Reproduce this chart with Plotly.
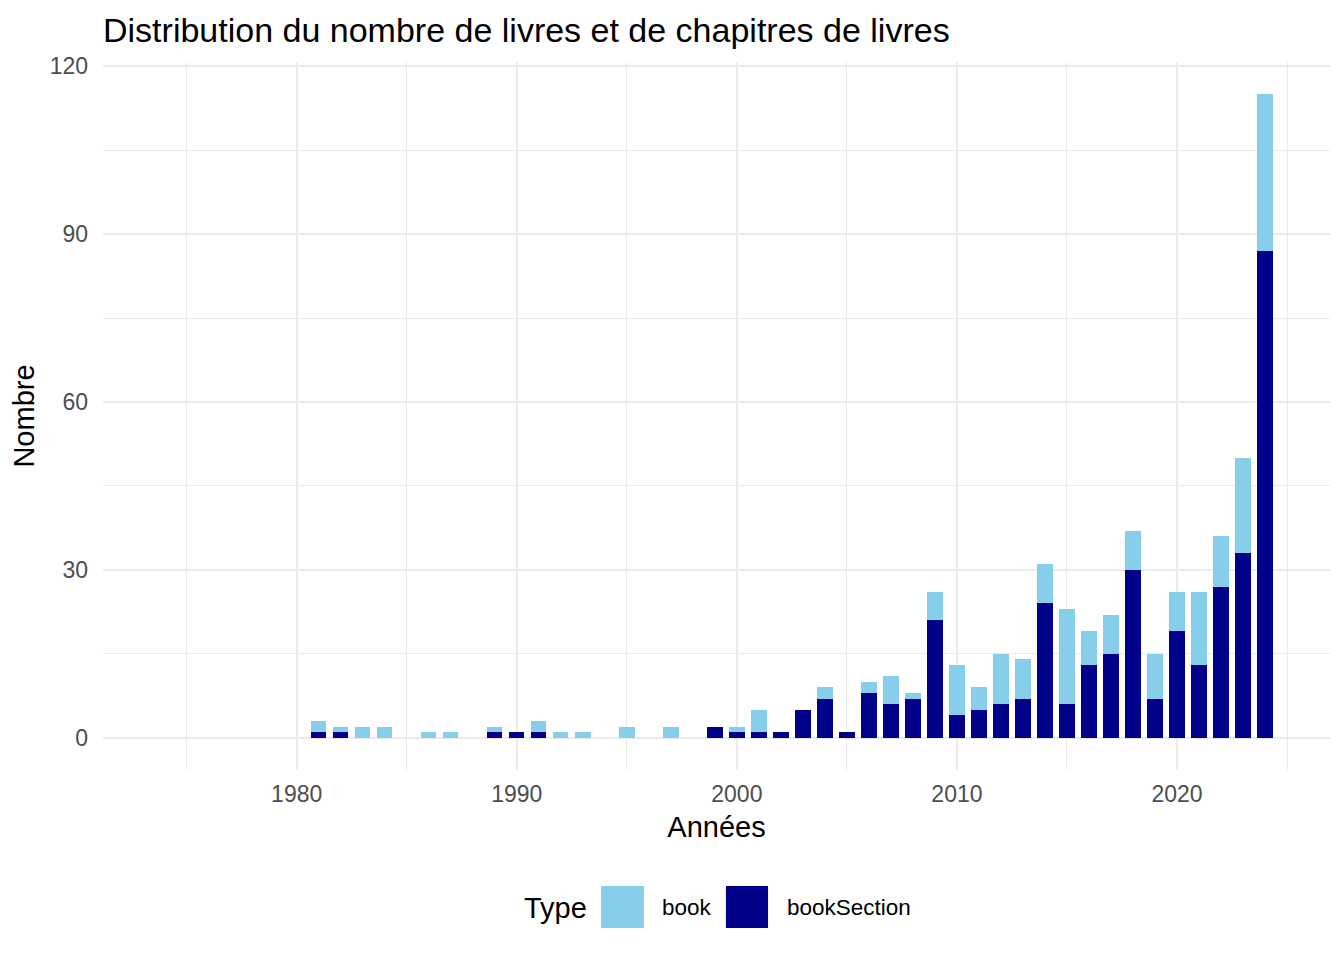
"""
Distribution of books and book chapters per year (stacked bars)
"""

import plotly.graph_objects as go

# ------------------------------------------------------------------
# Data
# ------------------------------------------------------------------
years = [1981, 1982, 1983, 1984, 1986, 1987, 1989, 1990, 1991, 1992,
         1993, 1995, 1997, 1999, 2000, 2001, 2002, 2003, 2004, 2005,
         2006, 2007, 2008, 2009, 2010, 2011, 2012, 2013, 2014, 2015,
         2016, 2017, 2018, 2019, 2020, 2021, 2022, 2023, 2024]

book_section = [1, 1, 0, 0, 0, 0, 1, 1, 1, 0,
                0, 0, 0, 2, 1, 1, 1, 5, 7, 1,
                8, 6, 7, 21, 4, 5, 6, 7, 24, 6,
                13, 15, 30, 7, 19, 13, 27, 33, 87]

book = [2, 1, 2, 2, 1, 1, 1, 0, 2, 1,
        1, 2, 2, 0, 1, 4, 0, 0, 2, 0,
        2, 5, 1, 5, 9, 4, 9, 7, 7, 17,
        6, 7, 7, 8, 7, 13, 9, 17, 28]

x_ticks = [1980, 1990, 2000, 2010, 2020]
y_ticks = [0, 30, 60, 90, 120]

COLOR_BOOK = '#87CEEB'
COLOR_SECTION = '#00008B'
FONT = 'Liberation Sans, Arial, sans-serif'
GRID = '#EBEBEB'

# ------------------------------------------------------------------
# Figure
# ------------------------------------------------------------------
fig = go.Figure()

# bookSection at the bottom, book stacked on top
fig.add_trace(go.Bar(x=years, y=book_section, name='bookSection', width=0.7,
                     marker=dict(color=COLOR_SECTION, line=dict(width=0)),
                     showlegend=False))
fig.add_trace(go.Bar(x=years, y=book, name='book', width=0.7,
                     marker=dict(color=COLOR_BOOK, line=dict(width=0)),
                     showlegend=False))

# Legend drawn by hand (big square keys, like ggplot)
legend_y0, legend_y1 = -0.2232, -0.1638
text_y = -0.1949
fig.add_shape(type='rect', xref='paper', yref='paper',
              x0=0.4059, x1=0.4409, y0=legend_y0, y1=legend_y1,
              fillcolor=COLOR_BOOK, line=dict(width=0))
fig.add_shape(type='rect', xref='paper', yref='paper',
              x0=0.5077, x1=0.5420, y0=legend_y0, y1=legend_y1,
              fillcolor=COLOR_SECTION, line=dict(width=0))
fig.add_annotation(text='Type', xref='paper', yref='paper', x=0.3415, y=text_y,
                   xanchor='left', yanchor='middle', showarrow=False,
                   font=dict(family=FONT, size=29, color='black'))
fig.add_annotation(text='book', xref='paper', yref='paper', x=0.4540, y=text_y,
                   xanchor='left', yanchor='middle', showarrow=False,
                   font=dict(family=FONT, size=22.5, color='black'))
fig.add_annotation(text='bookSection', xref='paper', yref='paper', x=0.5558, y=text_y,
                   xanchor='left', yanchor='middle', showarrow=False,
                   font=dict(family=FONT, size=22.5, color='black'))

fig.update_layout(
    width=1344,
    height=960,
    barmode='stack',
    bargap=0,
    template='plotly_white',
    plot_bgcolor='white',
    paper_bgcolor='white',
    margin=dict(l=95, r=22, t=54, b=198),
    font=dict(family=FONT, color='black'),
    title=dict(
        text='Distribution du nombre de livres et de chapitres de livres',
        x=95 / 1344, xanchor='left', xref='container',
        y=1 - 22 / 960, yanchor='middle', yref='container',
        font=dict(family=FONT, size=34, color='black')
    ),
    showlegend=False
)

fig.update_xaxes(
    range=[1971.2, 2026.95],
    tickmode='array', tickvals=x_ticks, ticktext=[str(v) for v in x_ticks],
    tickfont=dict(family=FONT, size=23, color='#4D4D4D'),
    ticks='', ticklabelstandoff=8,
    showgrid=True, gridcolor=GRID, gridwidth=2,
    minor=dict(tickvals=[1975, 1985, 1995, 2005, 2015, 2025],
               showgrid=True, gridcolor=GRID, gridwidth=1),
    zeroline=False, showline=False,
    title=dict(text='Années', standoff=10,
               font=dict(family=FONT, size=29, color='black'))
)

fig.update_yaxes(
    range=[-5.75, 120.75],
    tickmode='array', tickvals=y_ticks, ticktext=[str(v) for v in y_ticks],
    tickfont=dict(family=FONT, size=23, color='#4D4D4D'),
    ticks='', ticklabelstandoff=14,
    showgrid=True, gridcolor=GRID, gridwidth=2,
    minor=dict(tickvals=[15, 45, 75, 105],
               showgrid=True, gridcolor=GRID, gridwidth=1),
    zeroline=False, showline=False,
    title=dict(text='Nombre', standoff=6,
               font=dict(family=FONT, size=29, color='black'))
)

fig.write_html('out.html')
print("[OK] out.html written")
